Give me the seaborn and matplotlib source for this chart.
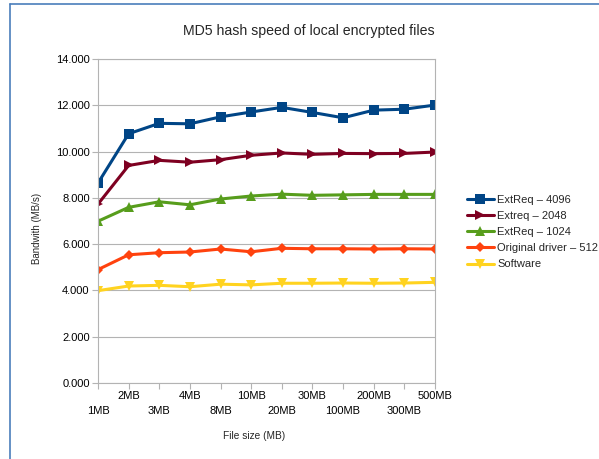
import pandas as pd
import matplotlib
matplotlib.use('Agg')
import matplotlib.pyplot as plt
from matplotlib.lines import Line2D
from matplotlib.ticker import FormatStrFormatter, FixedLocator, FixedFormatter
import seaborn as sns

# data
sizes = ['1MB', '2MB', '3MB', '4MB', '8MB', '10MB', '20MB', '30MB',
         '100MB', '200MB', '300MB', '500MB']
extreq_4096 = [8.64, 10.77, 11.22, 11.20, 11.50, 11.71, 11.91, 11.69, 11.46, 11.79, 11.83, 12.01]
extreq_2048 = [7.73, 9.40, 9.62, 9.54, 9.65, 9.84, 9.94, 9.88, 9.92, 9.91, 9.92, 9.98]
extreq_1024 = [6.99, 7.59, 7.83, 7.70, 7.95, 8.08, 8.16, 8.11, 8.13, 8.15, 8.15, 8.15]
original_512 = [4.90, 5.54, 5.63, 5.66, 5.79, 5.67, 5.82, 5.80, 5.80, 5.79, 5.80, 5.79]
software = [3.99, 4.19, 4.22, 4.16, 4.27, 4.24, 4.31, 4.31, 4.32, 4.31, 4.32, 4.35]

series_names = ['ExtReq – 4096', 'Extreq – 2048', 'ExtReq – 1024',
                'Original driver – 512', 'Software']
series_values = [extreq_4096, extreq_2048, extreq_1024, original_512, software]
colors = ['#004586', '#7e0021', '#579d1c', '#ff420e', '#ffd320']
markers = ['s', '>', '^', 'D', 'v']
marker_sizes = [7.5, 7.5, 7.5, 5.5, 7.5]

rows = []
for name, vals in zip(series_names, series_values):
    for i, v in enumerate(vals):
        rows.append({'pos': i, 'series': name, 'bw': v})
df = pd.DataFrame(rows)

sns.set_style('white')
plt.rcParams['font.family'] = ['Liberation Sans', 'DejaVu Sans']

fig = plt.figure(figsize=(5.99, 4.59), dpi=100)
ax = fig.add_axes([98/599, 1-383/459, (435-98)/599, (383-59)/459])

sns.lineplot(data=df, x='pos', y='bw', hue='series', style='series',
             hue_order=series_names, style_order=series_names,
             palette=colors, markers=markers, dashes=False,
             linewidth=2.2, markersize=7.5, markeredgewidth=0, ax=ax, legend=False)
for line, ms in zip(ax.get_lines(), marker_sizes):
    line.set_markersize(ms)

ax.set_xlim(0, len(sizes) - 1)
ax.set_ylim(0, 14)
ax.set_yticks(range(0, 15, 2))
ax.yaxis.set_major_formatter(FormatStrFormatter('%.3f'))

# staggered category labels: even positions on the lower row, odd on the upper row
lower_pos = list(range(0, len(sizes), 2))
upper_pos = list(range(1, len(sizes), 2))
ax.xaxis.set_major_locator(FixedLocator(lower_pos))
ax.xaxis.set_major_formatter(FixedFormatter([sizes[i] for i in lower_pos]))
ax.xaxis.set_minor_locator(FixedLocator(upper_pos))
ax.xaxis.set_minor_formatter(FixedFormatter([sizes[i] for i in upper_pos]))

ax.grid(axis='y', color='#b3b3b3', linewidth=0.8)
for sp in ax.spines.values():
    sp.set_color('#b3b3b3')
    sp.set_linewidth(0.8)
ax.tick_params(axis='both', which='both', length=4, width=0.8, color='#b3b3b3',
               labelsize=8, labelcolor='#000000', pad=2, direction='out')
ax.tick_params(axis='x', which='major', pad=12.5)
ax.tick_params(axis='x', which='both', bottom=True)
ax.tick_params(left=True)

fig.text(309/599, 1-31/459, 'MD5 hash speed of local encrypted files', fontsize=10.2,
         ha='center', va='center')
ax.set_xlabel('File size (MB)', fontsize=7.3)
ax.set_ylabel('Bandwith (MB/s)', fontsize=7)
ax.xaxis.set_label_coords((254-98)/337, (383-436)/324)
ax.yaxis.set_label_coords((37-98)/337, (383-228)/324)
ax.xaxis.label.set_va('center')
ax.yaxis.label.set_va('center')

handles = [Line2D([], [], color=c, marker=m, markersize=ms, markeredgewidth=0, linewidth=2.2)
           for c, m, ms in zip(colors, markers, marker_sizes)]
fig.legend(handles, series_names, loc='upper left', frameon=False, fontsize=8,
           bbox_to_anchor=(467/599, 1-195/459), handlelength=2.4, handletextpad=0.3,
           labelspacing=0.55, borderaxespad=0, borderpad=0)

# blue frame around the chart object
fig.add_artist(Line2D([10/599, 1], [1-4/459, 1-4/459], color='#4a7ebb', linewidth=1.2,
                      transform=fig.transFigure))
fig.add_artist(Line2D([10/599, 10/599], [0, 1-4/459], color='#4a7ebb', linewidth=1.2,
                      transform=fig.transFigure))

fig.savefig('out.png', dpi=100)
